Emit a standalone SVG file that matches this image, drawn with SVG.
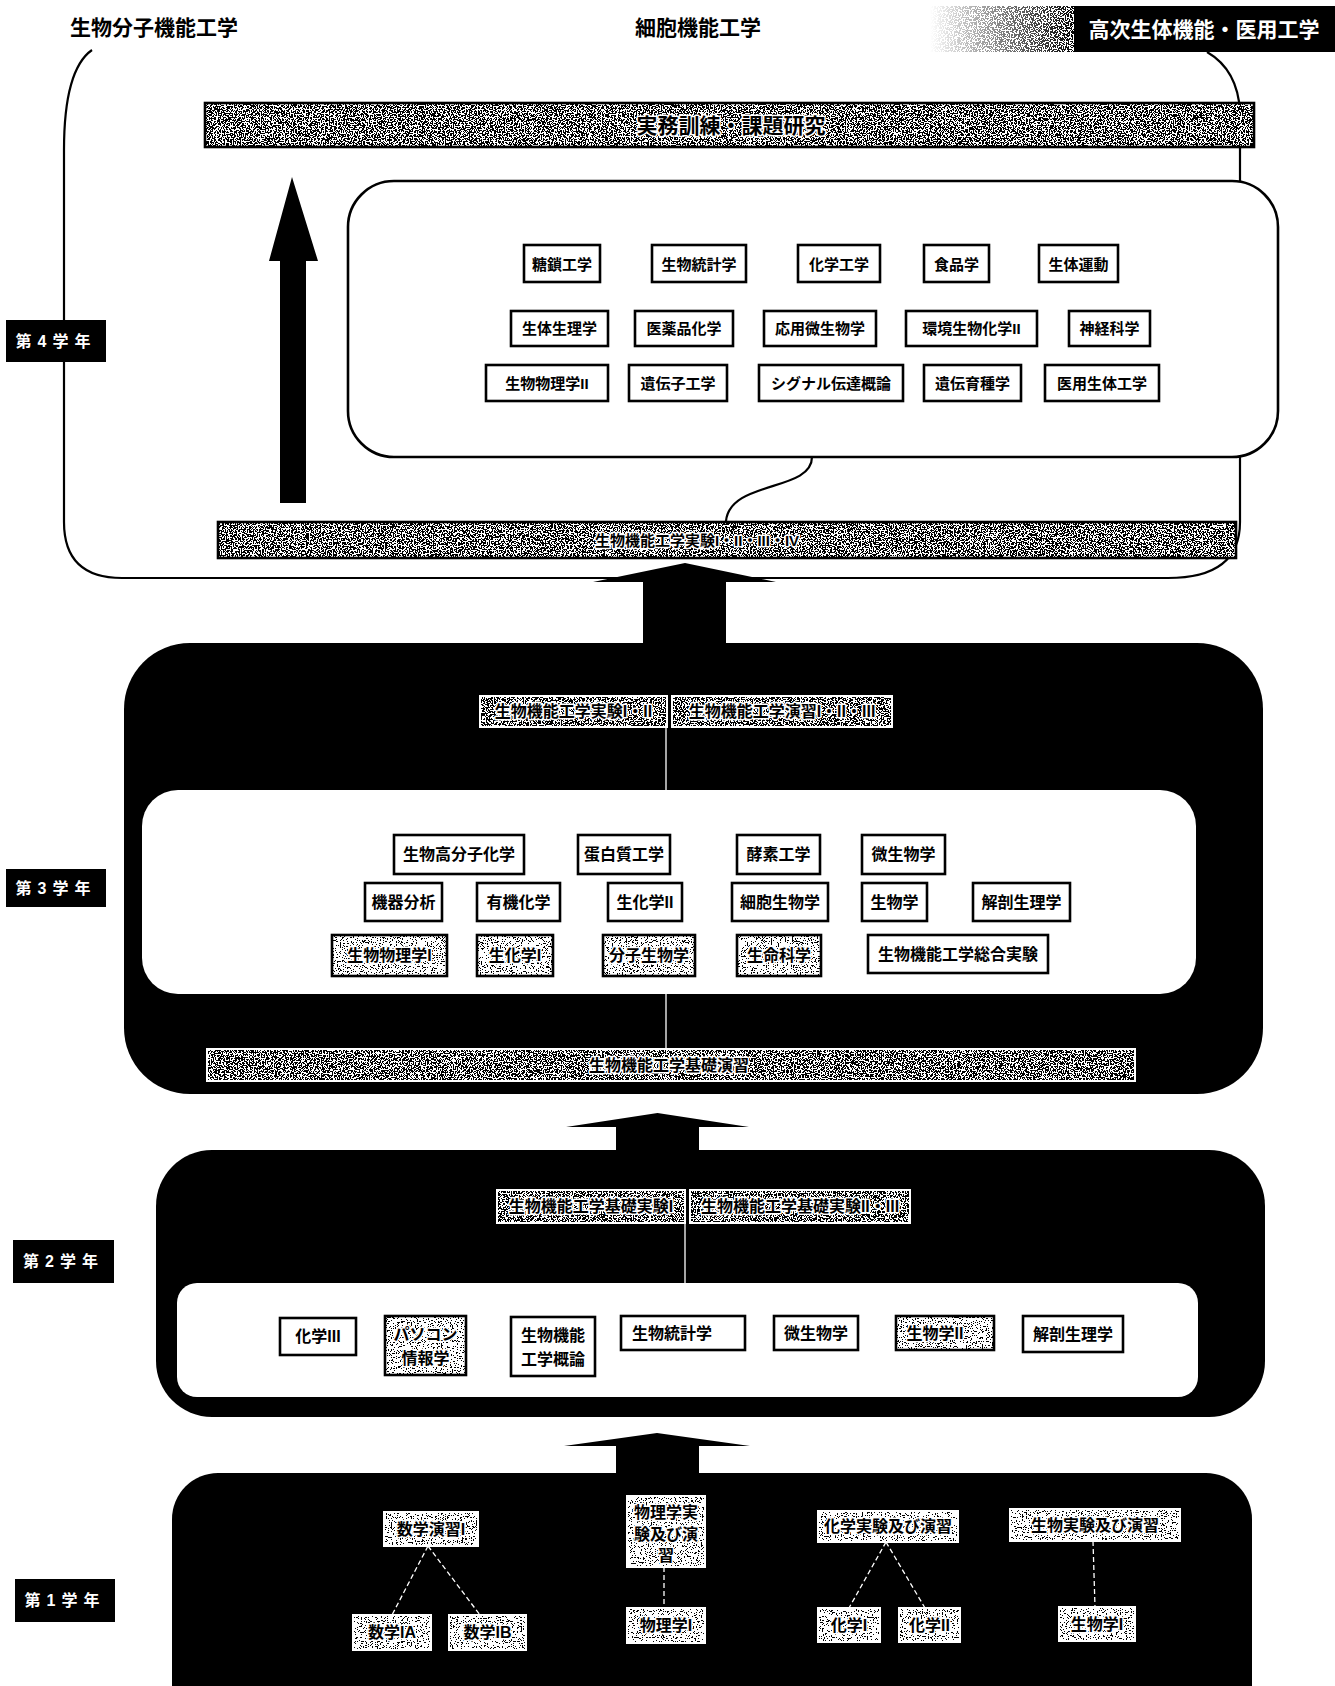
<svg xmlns="http://www.w3.org/2000/svg" width="1335" height="1686" viewBox="0 0 1335 1686">
<defs>
<style>
.t{font-family:"Liberation Sans","Noto Sans CJK JP",sans-serif;font-weight:bold;text-anchor:middle;dominant-baseline:central;fill:#000}
.tw{font-family:"Liberation Sans","Noto Sans CJK JP",sans-serif;font-weight:bold;text-anchor:middle;dominant-baseline:central;fill:#fff}
.tn{font-family:"Liberation Sans","Noto Sans CJK JP",sans-serif;font-weight:bold;text-anchor:middle;dominant-baseline:central;fill:#000;stroke:#fff;stroke-width:3;stroke-linejoin:round;paint-order:stroke}
.bx{fill:#fff;stroke:#000;stroke-width:2.6}
.bo{fill:none;stroke:#000;stroke-width:2.6}
.bow{fill:none;stroke:#fff;stroke-width:2}
.blk{fill:#000}
.ln{fill:none;stroke:#000;stroke-width:2.2}
.wl{fill:none;stroke:#fff;stroke-width:1.3}
.wd{fill:none;stroke:#fff;stroke-width:1.3;stroke-dasharray:5 3}
.yl{fill:#000}
</style>
<filter id="nzD" x="0" y="0" width="1" height="1" color-interpolation-filters="sRGB">
<feTurbulence type="fractalNoise" baseFrequency="0.75" numOctaves="2" seed="7"/>
<feColorMatrix type="saturate" values="0"/>
<feComponentTransfer>
<feFuncR type="discrete" tableValues="0 0 0 0 0 0 0 0 0 0 1 1 1 1 1 1 1 1 1 1"/>
<feFuncG type="discrete" tableValues="0 0 0 0 0 0 0 0 0 0 1 1 1 1 1 1 1 1 1 1"/>
<feFuncB type="discrete" tableValues="0 0 0 0 0 0 0 0 0 0 1 1 1 1 1 1 1 1 1 1"/>
<feFuncA type="discrete" tableValues="1"/>
</feComponentTransfer>
<feComposite in2="SourceGraphic" operator="in"/>
</filter>
<filter id="nzL" x="0" y="0" width="1" height="1" color-interpolation-filters="sRGB">
<feTurbulence type="fractalNoise" baseFrequency="0.8" numOctaves="2" seed="3"/>
<feColorMatrix type="saturate" values="0"/>
<feComponentTransfer>
<feFuncR type="discrete" tableValues="0 0 0 0 0 1 1 1 1 1 1 1"/>
<feFuncG type="discrete" tableValues="0 0 0 0 0 1 1 1 1 1 1 1"/>
<feFuncB type="discrete" tableValues="0 0 0 0 0 1 1 1 1 1 1 1"/>
<feFuncA type="discrete" tableValues="1"/>
</feComponentTransfer>
<feComposite in2="SourceGraphic" operator="in"/>
</filter>
<linearGradient id="fade" x1="0" y1="0" x2="1" y2="0">
<stop offset="0" stop-color="#fff" stop-opacity="1"/>
<stop offset="1" stop-color="#fff" stop-opacity="0"/>
</linearGradient>
</defs>
<rect width="1335" height="1686" fill="#fff"/>

<!-- headers -->
<g id="hdr-molecular"><text class="t" x="154" y="27" font-size="21">生物分子機能工学</text></g>
<g id="hdr-cell"><text class="t" x="698" y="27" font-size="21">細胞機能工学</text></g>
<g id="hdr-higher">
<rect x="930" y="6" width="146" height="46" fill="#fff" filter="url(#nzD)"/>
<rect x="930" y="6" width="146" height="46" fill="url(#fade)"/>
<rect x="1074" y="6" width="261" height="46" class="blk"/>
<text class="tw" x="1204" y="29" font-size="21">高次生体機能・医用工学</text>
</g>

<!-- year 4 region -->
<g id="year4-region">
<path class="ln" d="M92,50 C72,64 64,100 64,150 L64,522 Q64,578 122,578 L1168,578 Q1240,578 1240,522 L1240,112 Q1238,70 1207,52"/>
</g>

<g id="y4-banner">
<rect x="205" y="103" width="1049" height="44" fill="#fff" filter="url(#nzD)"/>
<rect x="205" y="103" width="1049" height="44" class="bo" stroke-width="3.5"/>
<text class="tn" x="731" y="125" font-size="21">実務訓練・課題研究</text>
</g>

<g id="y4-electives">
<rect x="348" y="181" width="930" height="276" rx="46" class="bx" stroke-width="2.2"/>
</g>

<g id="n-tousa"><rect x="524" y="245" width="76" height="37" class="bx"/><text class="t" x="562" y="264" font-size="15">糖鎖工学</text></g>
<g id="n-seibututoukei4"><rect x="652" y="245" width="94" height="37" class="bx"/><text class="t" x="699" y="264" font-size="15">生物統計学</text></g>
<g id="n-kagakukougaku"><rect x="798" y="245" width="82" height="37" class="bx"/><text class="t" x="839" y="264" font-size="15">化学工学</text></g>
<g id="n-shokuhin"><rect x="924" y="245" width="65" height="37" class="bx"/><text class="t" x="956.5" y="264" font-size="15">食品学</text></g>
<g id="n-seitaiundou"><rect x="1039" y="245" width="79" height="37" class="bx"/><text class="t" x="1078.5" y="264" font-size="15">生体運動</text></g>

<g id="n-seitaiseiri"><rect x="511" y="311" width="97" height="35" class="bx"/><text class="t" x="559.5" y="328.5" font-size="15">生体生理学</text></g>
<g id="n-iyakuhin"><rect x="635" y="311" width="98" height="35" class="bx"/><text class="t" x="684" y="328.5" font-size="15">医薬品化学</text></g>
<g id="n-ouyoubiseibutu"><rect x="764" y="311" width="112" height="35" class="bx"/><text class="t" x="820" y="328.5" font-size="15">応用微生物学</text></g>
<g id="n-kankyou"><rect x="906" y="311" width="131" height="35" class="bx"/><text class="t" x="971.5" y="328.5" font-size="15">環境生物化学II</text></g>
<g id="n-shinkei"><rect x="1069" y="311" width="81" height="35" class="bx"/><text class="t" x="1109.5" y="328.5" font-size="15">神経科学</text></g>

<g id="n-seibutubutsuri2"><rect x="486" y="365" width="122" height="36" class="bx"/><text class="t" x="547" y="383" font-size="15">生物物理学II</text></g>
<g id="n-idenshi"><rect x="629" y="365" width="98" height="36" class="bx"/><text class="t" x="678" y="383" font-size="15">遺伝子工学</text></g>
<g id="n-signal"><rect x="759" y="365" width="144" height="36" class="bx"/><text class="t" x="831" y="383" font-size="15">シグナル伝達概論</text></g>
<g id="n-iden-ikushu"><rect x="924" y="365" width="97" height="36" class="bx"/><text class="t" x="972.5" y="383" font-size="15">遺伝育種学</text></g>
<g id="n-iyouseitai"><rect x="1045" y="365" width="114" height="36" class="bx"/><text class="t" x="1102" y="383" font-size="15">医用生体工学</text></g>

<g id="y4-exp-banner">
<rect x="218" y="522" width="1018" height="36" fill="#fff" filter="url(#nzD)"/>
<rect x="218" y="522" width="1018" height="36" class="bo" stroke-width="3"/>
<text class="tn" x="697" y="540" font-size="15">生物機能工学実験I・II・III・IV</text>
</g>

<!-- year labels -->
<g id="lbl-y4"><rect x="6" y="320" width="100" height="42" class="yl"/><text class="tw" x="56" y="341" font-size="16" letter-spacing="6">第4学年</text></g>
<g id="lbl-y3"><rect x="6" y="869" width="100" height="38" class="yl"/><text class="tw" x="56" y="888" font-size="16" letter-spacing="6">第3学年</text></g>
<g id="lbl-y2"><rect x="13" y="1240" width="101" height="43" class="yl"/><text class="tw" x="63.5" y="1261.5" font-size="16" letter-spacing="6">第2学年</text></g>
<g id="lbl-y1"><rect x="15" y="1579" width="100" height="43" class="yl"/><text class="tw" x="65" y="1600.5" font-size="16" letter-spacing="6">第1学年</text></g>

<!-- year 3 -->
<g id="year3-region">
<rect x="124" y="643" width="1139" height="451" rx="66" class="blk"/>
<rect x="142" y="790" width="1054" height="204" rx="36" fill="#fff"/>
</g>
<g id="n-y3-jikken"><rect x="480" y="696" width="187" height="31" fill="#fff" filter="url(#nzD)"/><rect x="480" y="696" width="187" height="31" class="bow"/><text class="tn" x="573.5" y="711.5" font-size="16">生物機能工学実験I・II</text></g>
<g id="n-y3-enshu"><rect x="672" y="696" width="220" height="31" fill="#fff" filter="url(#nzD)"/><rect x="672" y="696" width="220" height="31" class="bow"/><text class="tn" x="782" y="711.5" font-size="16">生物機能工学演習I・II・III</text></g>

<g id="n-koubunshi"><rect x="394" y="835" width="130" height="39" class="bx"/><text class="t" x="459" y="854.5" font-size="16">生物高分子化学</text></g>
<g id="n-tanpaku"><rect x="578" y="835" width="92" height="39" class="bx"/><text class="t" x="624" y="854.5" font-size="16">蛋白質工学</text></g>
<g id="n-kouso"><rect x="737" y="835" width="83" height="39" class="bx"/><text class="t" x="778.5" y="854.5" font-size="16">酵素工学</text></g>
<g id="n-biseibutu3"><rect x="862" y="835" width="83" height="39" class="bx"/><text class="t" x="903.5" y="854.5" font-size="16">微生物学</text></g>

<g id="n-kiki"><rect x="365" y="883" width="77" height="38" class="bx"/><text class="t" x="403.5" y="902" font-size="16">機器分析</text></g>
<g id="n-yuuki"><rect x="477" y="883" width="83" height="38" class="bx"/><text class="t" x="518.5" y="902" font-size="16">有機化学</text></g>
<g id="n-seika2"><rect x="608" y="883" width="74" height="38" class="bx"/><text class="t" x="645" y="902" font-size="16">生化学II</text></g>
<g id="n-saibou"><rect x="732" y="883" width="96" height="38" class="bx"/><text class="t" x="780" y="902" font-size="16">細胞生物学</text></g>
<g id="n-seibutugaku3"><rect x="862" y="883" width="65" height="38" class="bx"/><text class="t" x="894.5" y="902" font-size="16">生物学</text></g>
<g id="n-kaibou3"><rect x="973" y="883" width="97" height="38" class="bx"/><text class="t" x="1021.5" y="902" font-size="16">解剖生理学</text></g>

<g id="n-butsuri1"><rect x="332" y="935" width="115" height="41" fill="#fff" filter="url(#nzL)"/><rect x="332" y="935" width="115" height="41" class="bo"/><text class="tn" x="389.5" y="955.5" font-size="16">生物物理学I</text></g>
<g id="n-seika1"><rect x="477" y="935" width="76" height="41" fill="#fff" filter="url(#nzL)"/><rect x="477" y="935" width="76" height="41" class="bo"/><text class="tn" x="515" y="955.5" font-size="16">生化学I</text></g>
<g id="n-bunshi"><rect x="603" y="935" width="92" height="41" fill="#fff" filter="url(#nzL)"/><rect x="603" y="935" width="92" height="41" class="bo"/><text class="tn" x="649" y="955.5" font-size="16">分子生物学</text></g>
<g id="n-seimei"><rect x="737" y="935" width="84" height="41" fill="#fff" filter="url(#nzL)"/><rect x="737" y="935" width="84" height="41" class="bo"/><text class="tn" x="779" y="955.5" font-size="16">生命科学</text></g>
<g id="n-sougou"><rect x="868" y="935" width="180" height="38" class="bx"/><text class="t" x="958" y="954" font-size="16">生物機能工学総合実験</text></g>

<g id="y3-kiso-banner">
<rect x="207" y="1049" width="928" height="32" fill="#fff" filter="url(#nzD)"/>
<rect x="207" y="1049" width="928" height="32" class="bow"/>
<text class="tn" x="669" y="1065" font-size="16">生物機能工学基礎演習</text>
</g>

<!-- year 2 -->
<g id="year2-region">
<rect x="156" y="1150" width="1109" height="267" rx="56" class="blk"/>
<rect x="177" y="1283" width="1021" height="114" rx="20" fill="#fff"/>
</g>
<g id="n-kisojikken1"><rect x="497" y="1190" width="188" height="33" fill="#fff" filter="url(#nzD)"/><rect x="497" y="1190" width="188" height="33" class="bow"/><text class="tn" x="591" y="1206.5" font-size="16">生物機能工学基礎実験I</text></g>
<g id="n-kisojikken2"><rect x="690" y="1190" width="220" height="33" fill="#fff" filter="url(#nzD)"/><rect x="690" y="1190" width="220" height="33" class="bow"/><text class="tn" x="800" y="1206.5" font-size="16">生物機能工学基礎実験II・III</text></g>

<g id="n-kagaku3"><rect x="280" y="1318" width="76" height="37" class="bx"/><text class="t" x="318" y="1336.5" font-size="16">化学III</text></g>
<g id="n-pasokon"><rect x="385" y="1316" width="81" height="59" fill="#fff" filter="url(#nzL)"/><rect x="385" y="1316" width="81" height="59" class="bo"/><text class="tn" x="425.5" y="1334" font-size="16">パソコン</text><text class="tn" x="425.5" y="1358" font-size="16">情報学</text></g>
<g id="n-gairon"><rect x="511" y="1317" width="84" height="59" class="bx"/><text class="t" x="553" y="1335" font-size="16">生物機能</text><text class="t" x="553" y="1359" font-size="16">工学概論</text></g>
<g id="n-toukei2"><rect x="621" y="1316" width="124" height="34" class="bx"/><text class="t" x="672" y="1333" font-size="16">生物統計学</text></g>
<g id="n-biseibutu2"><rect x="774" y="1316" width="84" height="34" class="bx"/><text class="t" x="816" y="1333" font-size="16">微生物学</text></g>
<g id="n-seibutugaku2"><rect x="896" y="1316" width="98" height="34" fill="#fff" filter="url(#nzL)"/><rect x="896" y="1316" width="98" height="34" class="bo"/><text class="tn" x="935" y="1333" font-size="16">生物学II</text></g>
<g id="n-kaibou2"><rect x="1023" y="1316" width="100" height="36" class="bx"/><text class="t" x="1073" y="1334" font-size="16">解剖生理学</text></g>

<!-- year 1 -->
<g id="year1-region">
<rect x="172" y="1473" width="1080" height="260" rx="46" class="blk"/>
</g>
<g id="n-suugakuenshu"><rect x="384" y="1512" width="94" height="34" fill="#fff" filter="url(#nzL)"/><rect x="384" y="1512" width="94" height="34" class="bow"/><text class="tn" x="431" y="1529" font-size="16">数学演習I</text></g>
<g id="n-suugaku1a"><rect x="353" y="1615" width="78" height="35" fill="#fff" filter="url(#nzL)"/><rect x="353" y="1615" width="78" height="35" class="bow"/><text class="tn" x="392" y="1632.5" font-size="16">数学IA</text></g>
<g id="n-suugaku1b"><rect x="449" y="1615" width="77" height="35" fill="#fff" filter="url(#nzL)"/><rect x="449" y="1615" width="77" height="35" class="bow"/><text class="tn" x="487.5" y="1632.5" font-size="16">数学IB</text></g>
<g id="n-butsurijikken"><rect x="627" y="1496" width="78" height="71" fill="#fff" filter="url(#nzL)"/><rect x="627" y="1496" width="78" height="71" class="bow"/><text class="tn" x="666" y="1512" font-size="16">物理学実</text><text class="tn" x="666" y="1534" font-size="16">験及び演</text><text class="tn" x="666" y="1555" font-size="16">習</text></g>
<g id="n-butsuri1y"><rect x="627" y="1608" width="78" height="35" fill="#fff" filter="url(#nzL)"/><rect x="627" y="1608" width="78" height="35" class="bow"/><text class="tn" x="666" y="1625.5" font-size="16">物理学I</text></g>
<g id="n-kagakujikken"><rect x="818" y="1511" width="140" height="31" fill="#fff" filter="url(#nzL)"/><rect x="818" y="1511" width="140" height="31" class="bow"/><text class="tn" x="888" y="1526.5" font-size="16">化学実験及び演習</text></g>
<g id="n-kagaku1"><rect x="818" y="1608" width="62" height="34" fill="#fff" filter="url(#nzL)"/><rect x="818" y="1608" width="62" height="34" class="bow"/><text class="tn" x="849" y="1625" font-size="16">化学I</text></g>
<g id="n-kagaku2"><rect x="899" y="1608" width="61" height="34" fill="#fff" filter="url(#nzL)"/><rect x="899" y="1608" width="61" height="34" class="bow"/><text class="tn" x="929.5" y="1625" font-size="16">化学II</text></g>
<g id="n-seibutujikken"><rect x="1010" y="1509" width="170" height="32" fill="#fff" filter="url(#nzL)"/><rect x="1010" y="1509" width="170" height="32" class="bow"/><text class="tn" x="1095" y="1525" font-size="16">生物実験及び演習</text></g>
<g id="n-seibutugaku1"><rect x="1059" y="1607" width="76" height="34" fill="#fff" filter="url(#nzL)"/><rect x="1059" y="1607" width="76" height="34" class="bow"/><text class="tn" x="1097" y="1624" font-size="16">生物学I</text></g>

<!-- connectors -->
<g id="connectors">
<polygon class="blk" points="280,503 280,261 269,261 292,177 318,261 306,261 306,503"/>
<path class="ln" stroke-width="1.8" d="M812,457 C812,492 730,480 726,521"/>
<polygon class="blk" points="643,646 643,582 593,582 685,563 776,582 726,582 726,646"/>
<polygon class="blk" points="616,1152 616,1127 566,1127 657.5,1113 749,1127 699,1127 699,1152"/>
<polygon class="blk" points="616,1475 616,1446 564,1446 657,1433 750,1446 699,1446 699,1475"/>
<line class="wl" x1="666" y1="727" x2="666" y2="790"/>
<line class="wl" x1="666" y1="994" x2="666" y2="1049"/>
<line class="wl" x1="685" y1="1223" x2="685" y2="1283"/>
<line class="wd" x1="428" y1="1546" x2="392" y2="1615"/>
<line class="wd" x1="428" y1="1546" x2="480" y2="1615"/>
<line class="wd" x1="664" y1="1567" x2="664" y2="1608"/>
<line class="wd" x1="886" y1="1542" x2="849" y2="1608"/>
<line class="wd" x1="886" y1="1542" x2="925" y2="1608"/>
<line class="wd" x1="1093" y1="1541" x2="1095" y2="1607"/>
</g>
</svg>
